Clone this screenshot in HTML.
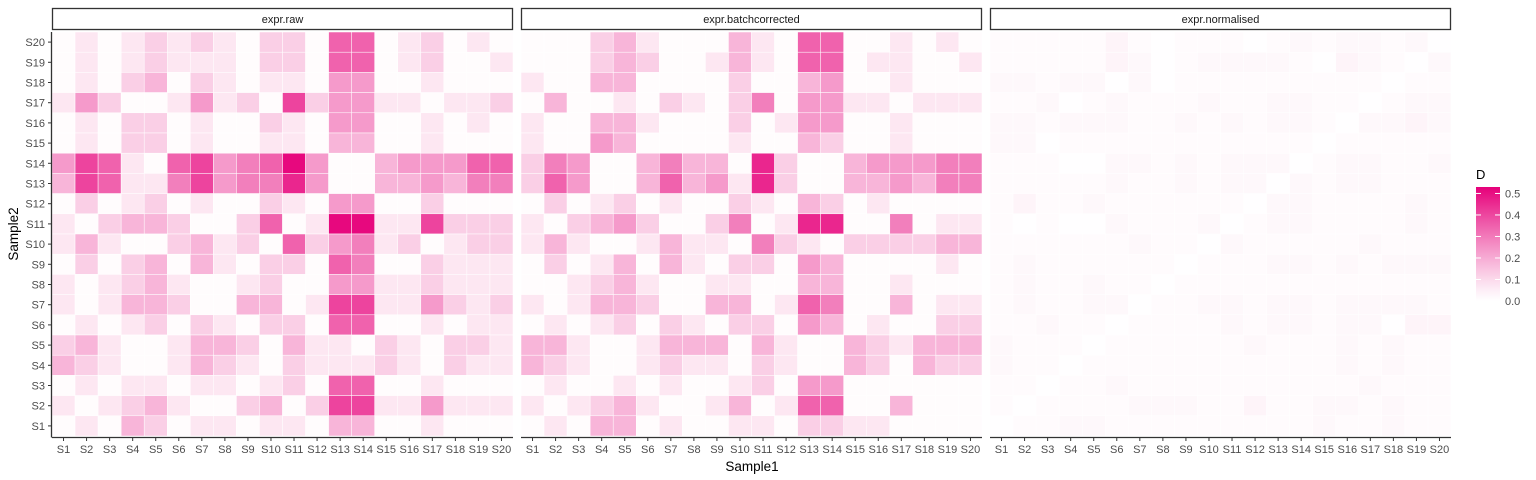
<!DOCTYPE html>
<html><head><meta charset="utf-8"><style>
body{margin:0;background:#fff;}
svg{display:block;font-family:"Liberation Sans",sans-serif;}
</style></head><body>
<svg id="chart" width="1536" height="480"></svg>
<script>
const samples=["S1","S2","S3","S4","S5","S6","S7","S8","S9","S10","S11","S12","S13","S14","S15","S16","S17","S18","S19","S20"];
const panelNames=["expr.raw","expr.batchcorrected","expr.normalised"];
const legendTicks=[0.0,0.1,0.2,0.3,0.4,0.5];
// rows listed from S20 (top) to S1 (bottom); columns S1..S20; D = 0.012 + level*0.056
const rawLevels=[
[0,1,0,1,2,1,2,1,0,2,2,0,6,6,0,1,2,0,1,0],
[0,1,0,1,2,1,1,1,0,2,2,0,6,6,0,1,2,0,0,1],
[0,1,0,2,3,0,2,1,0,1,1,0,4,4,0,0,1,0,0,0],
[1,4,2,0,0,1,4,1,2,0,7,2,4,4,1,1,0,1,1,2],
[0,1,0,2,2,0,1,0,0,2,1,0,4,4,0,0,1,0,1,0],
[0,1,0,2,2,0,1,0,0,1,1,0,3,3,0,0,1,0,0,0],
[4,7,6,1,0,6,7,4,5,6,9,4,0,0,3,4,4,4,6,6],
[3,7,6,1,1,5,7,4,5,5,8,4,0,0,3,3,4,3,5,5],
[0,2,0,1,2,0,1,0,0,2,1,0,4,4,0,0,2,0,0,0],
[1,0,2,3,3,2,0,0,2,6,0,1,9,9,1,1,7,2,2,2],
[1,3,1,0,0,2,3,1,2,0,6,2,4,5,1,2,0,1,2,2],
[0,2,0,2,3,0,3,1,0,2,2,0,6,5,0,0,2,1,1,1],
[1,0,1,2,3,1,0,0,1,2,0,0,4,4,1,1,2,1,1,1],
[1,0,1,3,3,2,0,0,3,3,0,1,7,7,1,1,4,2,1,2],
[0,1,0,1,2,0,2,1,0,2,2,0,6,6,0,0,1,0,1,1],
[2,3,1,0,0,1,3,3,2,0,3,1,1,0,2,1,0,2,2,1],
[3,2,1,0,0,1,3,2,1,0,2,1,1,1,2,1,0,2,1,1],
[0,1,0,1,1,0,1,1,0,1,2,0,6,6,0,0,1,0,0,0],
[1,0,1,2,3,1,0,0,2,3,0,2,7,7,1,1,4,1,1,1],
[0,1,0,3,2,0,1,1,0,1,1,0,3,3,0,0,1,0,0,0]];
const batchLevels=[
[0,0,0,2,3,1,0,0,0,3,1,0,6,6,0,0,1,0,1,0],
[0,0,0,2,3,2,0,0,1,3,1,0,6,6,0,1,1,0,0,1],
[1,0,0,3,3,0,0,0,0,2,0,0,3,4,0,0,1,0,0,0],
[0,3,0,0,1,0,2,1,0,2,5,0,4,4,1,1,0,1,1,1],
[1,0,0,3,3,1,0,0,0,2,0,1,4,4,0,0,1,0,0,0],
[1,0,0,4,3,0,0,0,0,1,0,0,3,2,0,0,1,0,0,0],
[2,5,4,0,0,3,5,3,3,0,8,2,0,0,3,4,4,4,5,5],
[2,6,4,0,0,3,6,3,4,1,8,2,0,0,3,3,4,3,5,5],
[0,2,0,1,2,0,1,0,0,2,1,0,3,2,0,1,0,0,0,0],
[1,0,2,3,4,2,0,0,2,5,0,1,8,8,0,0,5,0,1,1],
[1,3,1,0,0,1,3,1,1,0,5,2,1,0,2,2,2,2,3,3],
[0,2,0,1,3,0,3,1,0,2,2,0,4,3,0,0,0,0,1,0],
[0,0,1,2,3,1,0,0,1,1,0,0,3,3,0,0,1,0,0,0],
[1,0,1,3,3,2,0,0,3,3,0,1,6,5,0,0,3,0,1,1],
[0,1,0,1,2,0,2,1,0,2,2,0,4,3,0,1,0,0,2,2],
[3,3,1,0,0,1,3,3,3,0,3,1,0,0,3,2,1,3,3,3],
[3,2,1,0,0,1,2,1,1,0,2,1,0,0,3,2,0,3,2,2],
[0,1,0,0,1,0,1,0,0,1,2,0,4,4,0,0,0,0,0,0],
[1,0,1,2,3,1,0,0,1,3,0,1,6,6,0,0,3,0,0,0],
[0,1,0,3,3,0,1,0,0,1,1,0,2,2,1,1,0,0,0,0]];
// normalised: unit = 0.01 D
const normHundredths=[
[1,1,1,1,1,3,1,0,1,1,1,0,1,2,1,2,2,1,2,0],
[1,1,1,1,1,3,2,0,1,2,2,2,2,1,0,3,2,1,0,2],
[2,2,1,2,2,0,2,0,1,1,1,1,1,1,1,1,1,0,1,1],
[1,1,2,0,1,2,1,1,1,2,1,1,2,2,1,1,0,1,2,2],
[2,2,1,2,2,2,1,1,2,1,2,1,2,2,1,0,2,2,3,2],
[2,2,0,1,1,1,1,1,1,1,1,1,1,1,0,1,1,1,1,1],
[1,1,1,0,0,2,2,1,2,1,2,2,2,0,1,2,2,1,1,2],
[1,1,1,1,1,2,1,1,2,1,2,2,0,2,1,2,2,1,1,1],
[1,3,1,1,2,1,1,1,1,1,1,0,2,2,1,1,1,1,2,1],
[1,0,1,0,0,2,1,1,1,2,0,1,2,2,1,1,1,1,2,1],
[1,1,1,1,1,1,2,1,1,0,2,1,1,1,1,1,2,1,1,1],
[1,2,1,1,1,1,1,1,0,1,1,1,2,2,1,2,1,2,2,2],
[1,2,1,1,2,1,1,0,1,1,1,1,1,1,1,1,1,1,1,1],
[1,2,1,1,2,2,0,1,1,2,2,1,2,2,1,2,2,2,2,1],
[1,1,2,1,1,0,1,1,1,1,2,1,2,2,1,2,2,0,3,3],
[2,1,1,1,0,1,1,1,1,1,1,2,1,1,1,2,1,2,1,1],
[2,1,1,0,1,1,1,1,1,1,1,1,1,1,1,2,1,2,1,1],
[1,1,0,1,1,2,1,1,1,1,1,1,1,1,1,1,2,1,1,1],
[1,0,1,1,1,1,2,2,2,1,1,3,1,1,2,2,1,2,1,1],
[0,1,1,2,2,1,1,1,1,1,1,1,1,1,2,1,1,2,1,1]];

const NS="http://www.w3.org/2000/svg";
const svg=document.getElementById("chart");
function mk(tag,attrs,parent){const e=document.createElementNS(NS,tag);for(const k in attrs)e.setAttribute(k,attrs[k]);(parent||svg).appendChild(e);return e;}
const DMAX=0.53;
function color(v){let t=Math.max(0,Math.min(1,v/DMAX));t=Math.pow(t,1.15);
 const r=Math.round(255+(230-255)*t),g=Math.round(255+(0-255)*t),b=Math.round(255+(122-255)*t);return `rgb(${r},${g},${b})`;}
const panelX=[52,521,990], PW=461, TOP=32, BOT=436;
const cw=PW/20, ch=(BOT-TOP)/20;
function xPos(p,i){return panelX[p]+i*cw;}
function yPos(rowFromTop){return TOP+rowFromTop*ch;}
const data=[rawLevels.map(r=>r.map(v=>0.012+v*0.056)),batchLevels.map(r=>r.map(v=>0.012+v*0.056)),normHundredths.map(r=>r.map(v=>0.004+v*0.01))];

data.forEach((mat,p)=>{
 const g=mk("g",{});
 
 
 mat.forEach((row,ri)=>row.forEach((v,ci)=>{
  const r=mk("rect",{x:xPos(p,ci),y:yPos(ri),width:cw,height:ch,fill:color(v),stroke:"#fff","stroke-width":0.5},g);
  
  
 }));
 const s=mk("rect",{x:panelX[p]+0.5,y:8.5,width:PW-1,height:21,fill:"#fff",stroke:"#333","stroke-width":1.3});
 
 
 const st=mk("text",{x:panelX[p]+PW/2,y:23,"font-size":11,"text-anchor":"middle",fill:"#1a1a1a"});st.textContent=panelNames[p];
 
 
 const ax=mk("line",{x1:panelX[p],x2:panelX[p]+PW,y1:437.5,y2:437.5,stroke:"#333","stroke-width":1.3});
 
 
 samples.forEach((sname,i)=>{
  const cx=xPos(p,i)+cw/2;
  mk("line",{x1:cx,x2:cx,y1:438,y2:441,stroke:"#333","stroke-width":1});
  const t=mk("text",{x:cx,y:453,"font-size":11,"text-anchor":"middle",fill:"#4d4d4d"});t.textContent=sname;
  
  
 });
});
const yl=mk("line",{x1:51.5,x2:51.5,y1:TOP,y2:437.5,stroke:"#333","stroke-width":1.3});


samples.forEach((sname,i)=>{
 const cy=yPos(19-i)+ch/2;
 mk("line",{x1:48,x2:51,y1:cy,y2:cy,stroke:"#333","stroke-width":1});
 const t=mk("text",{x:45,y:cy+4,"font-size":11,"text-anchor":"end",fill:"#4d4d4d"});t.textContent=sname;
 
 
});
const xt=mk("text",{x:752,y:471,"font-size":13.5,"text-anchor":"middle",fill:"#000"});xt.textContent="Sample1";


const yt=mk("text",{x:0,y:0,"font-size":13.5,"text-anchor":"middle",fill:"#000",transform:"translate(18,234) rotate(-90)"});yt.textContent="Sample2";


const lg=mk("g",{});


const lt=mk("text",{x:1476,y:179,"font-size":13,fill:"#000"},lg);lt.textContent="D";
const defs=mk("defs",{});
const grad=mk("linearGradient",{id:"lgd",x1:0,y1:1,x2:0,y2:0},defs);
for(let k=0;k<=10;k++){const v=k/10*DMAX;mk("stop",{offset:k/10,"stop-color":color(v)},grad);}
const LB0=301,LB1=187;
mk("rect",{x:1476,y:LB1,width:24,height:LB0-LB1,fill:"url(#lgd)"},lg);
function ly(v){return LB0-(v/DMAX)*(LB0-LB1);}
legendTicks.forEach(v=>{
 const y=ly(v);
 mk("line",{x1:1476,x2:1481,y1:y,y2:y,stroke:"#fff","stroke-width":1},lg);
 mk("line",{x1:1495,x2:1500,y1:y,y2:y,stroke:"#fff","stroke-width":1},lg);
 const t=mk("text",{x:1505,y:y+4,"font-size":11,fill:"#4d4d4d"},lg);t.textContent=v.toFixed(1);
 
 
});
</script>
</body></html>
